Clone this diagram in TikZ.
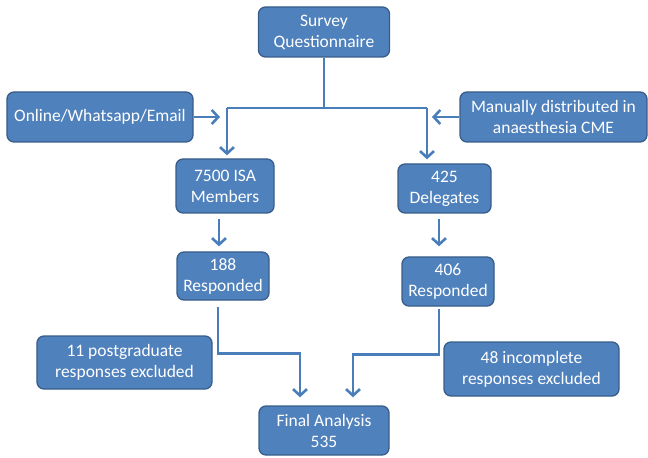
\documentclass[tikz,border=0pt]{standalone}
\usepackage{fontspec}
\setmainfont{Carlito}
\usetikzlibrary{arrows.meta}
\definecolor{boxblue}{HTML}{4F81BD}
\definecolor{boxedge}{HTML}{385D8A}
\definecolor{linkblue}{HTML}{4A7EBB}

\begin{document}
\begin{tikzpicture}[x=1bp, y=-1bp,
  block/.style={draw=boxedge, line width=1.3bp, fill=boxblue, rounded corners=7bp, text=white,
    align=center, inner sep=0pt, font=\fontsize{17.5bp}{21bp}\selectfont},
  link/.style={draw=linkblue, line width=2.6bp},
  arr/.style={link, -{Straight Barb[length=6.5bp, width=14bp]}}]
  \useasboundingbox (0,0) rectangle (648,458);
  % boxes
  \node[block, minimum width=131bp, minimum height=50bp] (Survey) at(324,32){Survey\\Questionnaire};
  \node[block, minimum width=186bp, minimum height=50bp] (Online) at(100,117){Online/Whatsapp/Email};
  \node[block, minimum width=187bp, minimum height=50bp] (Manual) at(553.5,117){Manually distributed in\\anaesthesia CME};
  \node[block, minimum width=98bp, minimum height=54bp] (Members) at(225,186){7500 ISA\\Members};
  \node[block, minimum width=93bp, minimum height=49bp] (Delegates) at(444.5,188.5){425\\Delegates};
  \node[block, minimum width=92bp, minimum height=48bp] (RespA) at(223,276){188\\Responded};
  \node[block, minimum width=92bp, minimum height=49bp] (RespB) at(448,281.5){406\\Responded};
  \node[block, minimum width=175bp, minimum height=53bp] (ExclA) at(124.5,362.5){11 postgraduate\\responses excluded};
  \node[block, minimum width=175bp, minimum height=54bp] (ExclB) at(531.5,369){48 incomplete\\responses excluded};
  \node[block, minimum width=130bp, minimum height=49bp] (Final) at(324,430.5){Final Analysis\\535};
  % split below the survey
  \coordinate (Split) at (324,108);
  \coordinate (SplitL) at (227,108);
  \coordinate (SplitR) at (427,108);
  \coordinate (OnlineTip) at (220,117);
  \coordinate (ManualTip) at (432,117);
  \draw[link] (Survey) -- (Split);
  \draw[link] (SplitL) -- (SplitR);
  \draw[arr, shorten >=3bp] (SplitL) -- (SplitL |- Members.north);
  \draw[arr, shorten >=4bp] (SplitR) -- (SplitR |- Delegates.north);
  \draw[arr] (Online) -- (OnlineTip);
  \draw[arr] (Manual) -- (ManualTip);
  % down to the responses
  \draw[arr, shorten <=5bp, shorten >=5bp] ([xshift=-6bp]Members.south) -- ([xshift=-6bp]Members.south |- RespA.north);
  \draw[arr, shorten <=5bp, shorten >=10bp] ([xshift=-5.5bp]Delegates.south) -- ([xshift=-5.5bp]Delegates.south |- RespB.north);
  % responses to final analysis
  \draw[arr, shorten <=6bp, shorten >=8bp] ([xshift=-5bp]RespA.south) -- ++(0,53) -| ([xshift=-24bp]Final.north);
  \draw[arr, shorten <=2bp, shorten >=8bp] ([xshift=-9bp]RespB.south) -- ++(0,48) -| ([xshift=29bp]Final.north);
\end{tikzpicture}
\end{document}
